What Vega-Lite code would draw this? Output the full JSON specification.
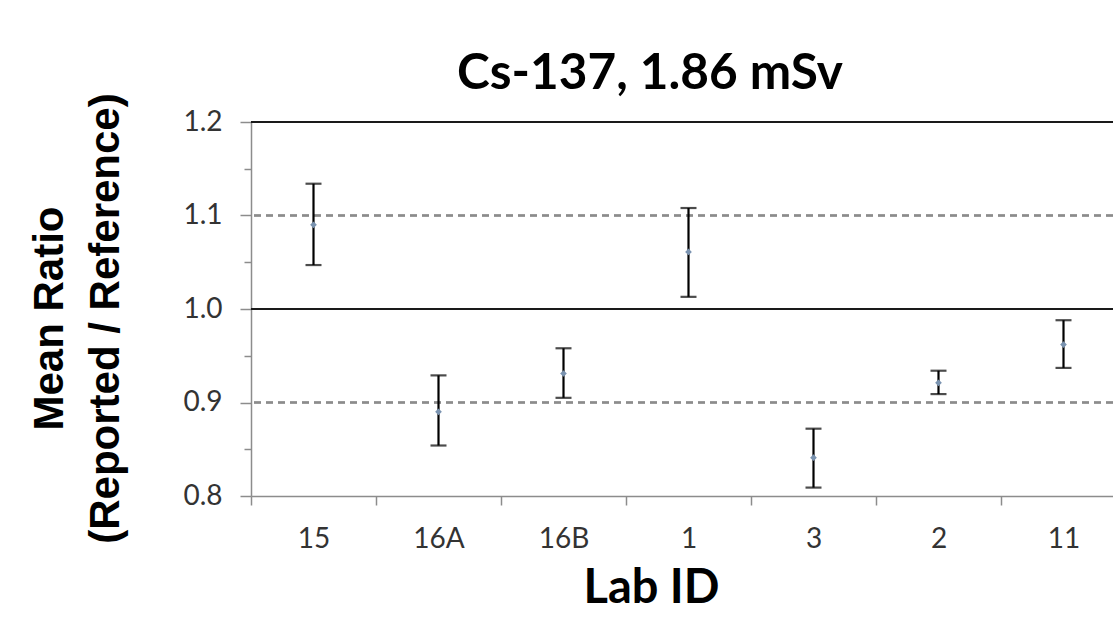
{
  "$schema": "https://vega.github.io/schema/vega-lite/v6.json",
  "width": 862,
  "height": 374,
  "autosize": {"type": "none"},
  "padding": {"left": 251, "top": 122, "right": 0, "bottom": 127},
  "background": "white",
  "config": {"view": {"stroke": null}},
  "title": {
    "text": "Cs-137, 1.86 mSv",
    "font": "Lato",
    "fontWeight": "bold",
    "fontSize": 49.5,
    "color": "#000000",
    "anchor": "middle",
    "dx": -32,
    "dy": 73,
    "baseline": "alphabetic",
    "offset": 27
  },
  "data": {
    "values": [
      {"lab": "15", "mean": 1.090, "lower": 1.047, "upper": 1.134},
      {"lab": "16A", "mean": 0.890, "lower": 0.854, "upper": 0.929},
      {"lab": "16B", "mean": 0.931, "lower": 0.905, "upper": 0.958},
      {"lab": "1", "mean": 1.061, "lower": 1.013, "upper": 1.108},
      {"lab": "3", "mean": 0.841, "lower": 0.809, "upper": 0.872},
      {"lab": "2", "mean": 0.921, "lower": 0.909, "upper": 0.934},
      {"lab": "11", "mean": 0.962, "lower": 0.937, "upper": 0.988}
    ]
  },
  "layer": [
    {
      "mark": {"type": "rule", "color": "#8c8c8c", "strokeWidth": 1.5, "strokeDash": [7, 5]},
      "encoding": {"y": {"datum": 1.1, "type": "quantitative"}}
    },
    {
      "mark": {"type": "rule", "color": "#8c8c8c", "strokeWidth": 1.5, "strokeDash": [7, 5]},
      "encoding": {"y": {"datum": 0.9, "type": "quantitative"}}
    },
    {
      "mark": {"type": "rule", "color": "#1a1a1a", "strokeWidth": 2},
      "encoding": {"y": {"datum": 1.0, "type": "quantitative"}}
    },
    {
      "mark": {"type": "rule", "color": "#1a1a1a", "strokeWidth": 2},
      "encoding": {"y": {"datum": 1.2, "type": "quantitative"}}
    },
    {
      "mark": {"type": "rule", "color": "#000000", "strokeWidth": 2.2},
      "encoding": {
        "x": {
          "field": "lab",
          "type": "nominal",
          "sort": null,
          "scale": {"range": [0, 875], "paddingInner": 0, "paddingOuter": 0},
          "axis": {
            "title": "Lab ID",
            "titleFont": "Lato",
            "titleFontSize": 47,
            "titleFontWeight": "bold",
            "titleColor": "#000000",
            "titleX": 400,
            "titleY": 106,
            "titleBaseline": "alphabetic",
            "titleAlign": "center",
            "labelFont": "Lato",
            "labelFontSize": 28,
            "labelColor": "#333333",
            "labelAngle": 0,
            "labelBaseline": "alphabetic",
            "labelPadding": 42,
            "tickSize": 9,
            "tickBand": "extent",
            "tickColor": "#8c8c8c",
            "tickWidth": 1.5,
            "domainColor": "#8c8c8c",
            "domainWidth": 1.5,
            "grid": false
          }
        },
        "y": {
          "field": "lower",
          "type": "quantitative",
          "scale": {"domain": [0.8, 1.2], "nice": false, "zero": false},
          "axis": {
            "title": ["Mean Ratio", "(Reported / Reference)"],
            "titleFont": "Liberation Sans",
            "titleFontSize": 42,
            "titleFontWeight": "bold",
            "titleColor": "#000000",
            "titleAngle": -90,
            "titleX": -189,
            "titleY": 196,
            "titleBaseline": "alphabetic",
            "titleAlign": "center",
            "titleLineHeight": 56,
            "values": [0.8, 0.85, 0.9, 0.95, 1.0, 1.05, 1.1, 1.15, 1.2],
            "labelExpr": "abs(datum.value * 10 - round(datum.value * 10)) < 0.001 ? format(datum.value, '.1f') : ''",
            "labelFont": "Lato",
            "labelFontSize": 28,
            "labelColor": "#333333",
            "labelPadding": 18,
            "tickSize": {"condition": {"test": "abs(datum.value * 10 - round(datum.value * 10)) < 0.001", "value": 11}, "value": 7},
            "tickColor": "#8c8c8c",
            "tickWidth": 1.5,
            "domainColor": "#8c8c8c",
            "domainWidth": 1.5,
            "grid": false
          }
        },
        "y2": {"field": "upper"}
      }
    },
    {
      "mark": {"type": "tick", "color": "#000000", "size": 16, "thickness": 2.2, "orient": "horizontal"},
      "encoding": {
        "x": {"field": "lab", "type": "nominal", "sort": null},
        "y": {"field": "upper", "type": "quantitative"}
      }
    },
    {
      "mark": {"type": "tick", "color": "#000000", "size": 16, "thickness": 2.2, "orient": "horizontal"},
      "encoding": {
        "x": {"field": "lab", "type": "nominal", "sort": null},
        "y": {"field": "lower", "type": "quantitative"}
      }
    },
    {
      "mark": {"type": "point", "shape": "diamond", "filled": true, "size": 45, "color": "#7a93b0", "opacity": 1},
      "encoding": {
        "x": {"field": "lab", "type": "nominal", "sort": null},
        "y": {"field": "mean", "type": "quantitative"}
      }
    }
  ]
}
